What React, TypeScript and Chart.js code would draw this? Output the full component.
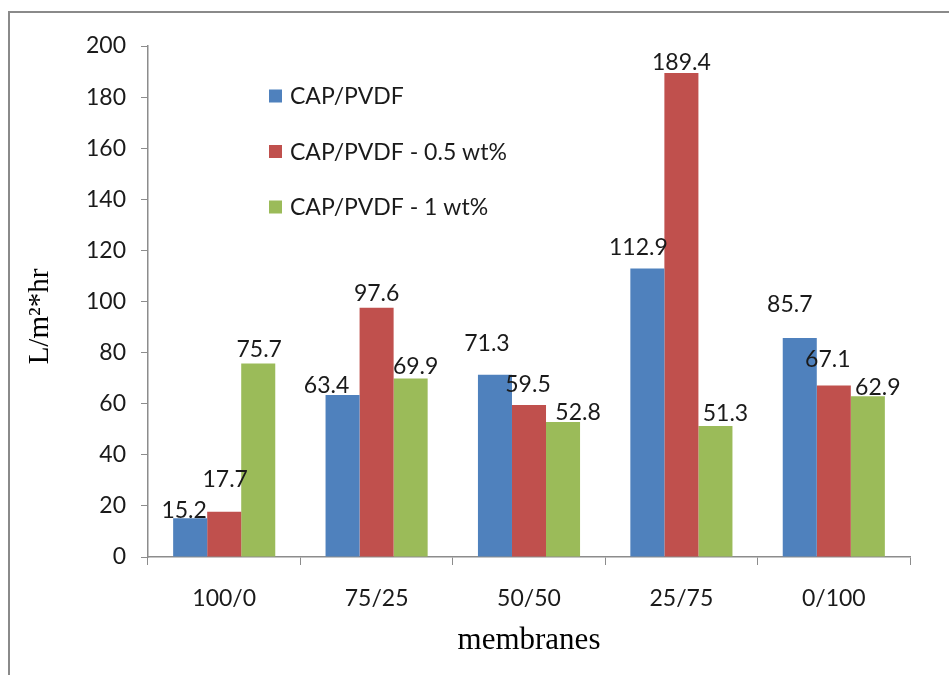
import { useEffect, useRef } from 'react';
import { Chart, registerables } from 'chart.js';

Chart.register(...registerables);

// Membrane blend ratios (CAP/PVDF) on the category axis
const categories = ['100/0', '75/25', '50/50', '25/75', '0/100'];

// Pure water flux, L/m²*hr
const seriesNames = ['CAP/PVDF', 'CAP/PVDF - 0.5 wt%', 'CAP/PVDF - 1 wt%'];
const fluxPlain = [15.2, 63.4, 71.3, 112.9, 85.7];
const fluxHalfPct = [17.7, 97.6, 59.5, 189.4, 67.1];
const fluxOnePct = [75.7, 69.9, 52.8, 51.3, 62.9];

const yMin = 0;
const yMax = 200;
const yStep = 20;

const seriesColors = ['#4F81BD', '#C0504D', '#9BBB59'];

// Where each value label sits relative to the top-centre of its bar (dx, dy in px)
const labelNudge: [number, number][][] = [
  [[-6, -8], [-16, -9], [-8, -31], [-9, -21], [-10, -33]],
  [[1, -32], [0, -14], [-1, -20], [0, -11], [-6, -26]],
  [[1, -14], [5, -12], [15, -10], [10, -12], [10, -9]],
];

const SANS = 'Lato, "Open Sans", sans-serif';
const SERIF = '"Liberation Serif", "Times New Roman", serif';
const AXIS_GREY = '#8c8c8c';
const TEXT = '#1a1a1a';

const valueLabels = {
  id: 'valueLabels',
  afterDatasetsDraw(chart: Chart) {
    const { ctx } = chart;
    ctx.save();
    ctx.font = `23px ${SANS}`;
    ctx.fillStyle = TEXT;
    ctx.textAlign = 'center';
    ctx.textBaseline = 'middle';
    chart.data.datasets.forEach((ds, di) => {
      const meta = chart.getDatasetMeta(di);
      meta.data.forEach((bar: any, i: number) => {
        const v = ds.data[i] as number;
        const [dx, dy] = labelNudge[di][i];
        ctx.fillText(v.toFixed(1), bar.x + dx, bar.y + dy);
      });
    });
    ctx.restore();
  },
};

const insideLegend = {
  id: 'insideLegend',
  afterDraw(chart: Chart) {
    const { ctx, chartArea } = chart;
    ctx.save();
    ctx.font = `23px ${SANS}`;
    ctx.textBaseline = 'middle';
    ctx.textAlign = 'left';
    const x0 = chartArea.left + 121;
    const y0 = chartArea.top + 50;
    chart.data.datasets.forEach((ds, i) => {
      const y = y0 + i * 55.5;
      ctx.fillStyle = ds.backgroundColor as string;
      ctx.fillRect(x0, y - 6.5, 13, 13);
      ctx.fillStyle = TEXT;
      ctx.fillText(ds.label as string, x0 + 21, y + 1);
    });
    ctx.restore();
  },
};

const yTitle = {
  id: 'yTitle',
  afterDraw(chart: Chart) {
    const { ctx, chartArea } = chart;
    ctx.save();
    ctx.font = `29px ${SERIF}`;
    ctx.fillStyle = '#000';
    ctx.textAlign = 'center';
    ctx.textBaseline = 'middle';
    ctx.translate(40, (chartArea.top + chartArea.bottom) / 2 + 15);
    ctx.rotate(-Math.PI / 2);
    ctx.fillText('L/m²*hr', 0, 0);
    ctx.restore();
  },
};

export default function App() {
  const ref = useRef<HTMLCanvasElement>(null);

  useEffect(() => {
    const series = [fluxPlain, fluxHalfPct, fluxOnePct];
    const chart = new Chart(ref.current as HTMLCanvasElement, {
      type: 'bar',
      data: {
        labels: categories,
        datasets: series.map((values, i) => ({
          label: seriesNames[i],
          data: values,
          backgroundColor: seriesColors[i],
          borderWidth: 0,
          categoryPercentage: 0.67,
          barPercentage: 1,
        })),
      },
      options: {
        responsive: false,
        animation: false,
        devicePixelRatio: 1,
        layout: { padding: { top: 46, right: 39, left: 0, bottom: 0 } },
        plugins: {
          legend: { display: false },
          tooltip: { enabled: false },
        },
        scales: {
          x: {
            grid: {
              drawOnChartArea: false,
              offset: true,
              tickLength: 8,
              color: AXIS_GREY,
            },
            border: { color: AXIS_GREY, width: 1.5 },
            ticks: { padding: 20, color: TEXT, font: { family: SANS, size: 23 } },
            title: {
              display: true,
              text: 'membranes',
              color: '#000',
              font: { family: SERIF, size: 31 },
              padding: { top: 0, bottom: 16 },
            },
            afterFit: (s: any) => {
              s.height = 118;
            },
          },
          y: {
            min: yMin,
            max: yMax,
            grid: {
              drawOnChartArea: false,
              tickLength: 7,
              color: AXIS_GREY,
            },
            border: { color: AXIS_GREY, width: 1.5 },
            ticks: {
              stepSize: yStep,
              padding: 15,
              color: TEXT,
              font: { family: SANS, size: 23 },
            },
            afterFit: (s: any) => {
              s.width = 148;
            },
          },
        },
      },
      plugins: [valueLabels, insideLegend, yTitle],
    });
    return () => chart.destroy();
  }, []);

  return (
    <div
      style={{
        position: 'fixed',
        left: 0,
        top: 0,
        width: 949,
        height: 675,
        background: '#fff',
        overflow: 'hidden',
      }}
    >
      <div
        style={{
          position: 'absolute',
          left: 8,
          top: 11,
          width: 941,
          height: 664,
          boxSizing: 'border-box',
          borderLeft: '2px solid #8a8a8a',
          borderTop: '2px solid #8a8a8a',
        }}
      />
      <canvas
        ref={ref}
        width={949}
        height={675}
        style={{ position: 'absolute', left: 0, top: 0 }}
      />
    </div>
  );
}
